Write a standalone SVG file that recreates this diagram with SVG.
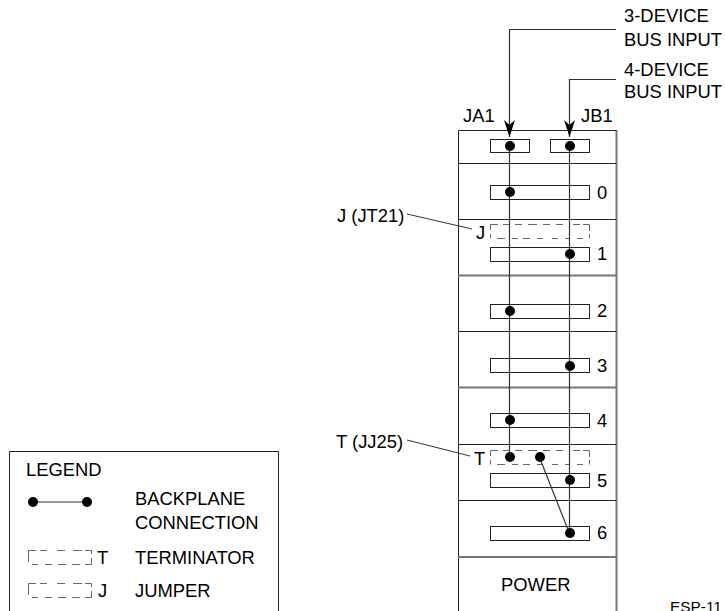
<svg xmlns="http://www.w3.org/2000/svg" width="725" height="611" viewBox="0 0 725 611">
<style>
text{font-family:"Liberation Sans",Arial,sans-serif;font-size:18.4px;fill:#000}
.b{fill:none;stroke:#222;stroke-width:1}
.g{fill:none;stroke:#777;stroke-width:2}
.w{fill:none;stroke:#333;stroke-width:1.2}
.d{fill:none;stroke:#666;stroke-width:1}
.l{fill:none;stroke:#333;stroke-width:1}
.s{fill:none;stroke:#222;stroke-width:1}
</style>
<defs>
<marker id="a" markerUnits="userSpaceOnUse" markerWidth="18" markerHeight="12" refX="17" refY="6" orient="auto" viewBox="0 0 18 12"><path d="M0 0.500L5 6L0 11.500L17 6Z" fill="#000"/></marker>
<path id="dm" d="M490.500 230V224.500H498M503 224.500H510M515 224.500H522M528 224.500H537M543 224.500H550M556 224.500H563M573 224.500H580M583 224.500H589.500V231M490.500 238.500V234M497 238.500H505M512 238.500H518M523 238.500H530M537 238.500H543M552 238.500H558M565 238.500H570M577 238.500H583M589.500 238.500V234"/>
<path id="dl" d="M28.500 562V550.500H36M40 550.500H47M57 550.500H65M73 550.500H82M85 550.500H91.500V554M32 564.500H38M45 564.500H52M58 564.500H66M72 564.500H80M85 564.500H91.500V558"/>
</defs>
<g id="rack">
<path class="g" d="M616.500 130V611"/>
<path class="b" d="M458.500 611V130.500H616.500"/>
<path class="b" d="M458.500 163.500H616.500M458.500 219.500H616.500M458.500 331.500H616.500M458.500 444.500H616.500M458.500 500.500H616.500"/>
<path class="g" d="M458 275.500H616M458 387.500H616M458 557H616"/>
<text x="463" y="122">JA1</text><text x="581" y="122">JB1</text>
<text x="501" y="591">POWER</text>
</g>
<g id="slot-top"><rect class="s" x="490.500" y="139.500" width="39" height="13"/><rect class="s" x="550.500" y="139.500" width="39" height="13"/></g>
<g id="slot-0"><rect class="s" x="490.500" y="185.500" width="99" height="14"/><text x="597" y="199">0</text></g>
<g id="jumper-jt21"><use href="#dm" class="d"/><text x="476" y="239">J</text></g>
<g id="slot-1"><rect class="s" x="490.500" y="247.500" width="99" height="14"/><text x="597" y="260">1</text></g>
<g id="slot-2"><rect class="s" x="490.500" y="304.500" width="99" height="14"/><text x="597" y="317">2</text></g>
<g id="slot-3"><rect class="s" x="490.500" y="358.500" width="99" height="14"/><text x="597" y="372">3</text></g>
<g id="slot-4"><rect class="s" x="490.500" y="413.500" width="99" height="14"/><text x="597" y="427">4</text></g>
<g id="terminator-jj25"><use href="#dm" class="d" transform="translate(0 226)"/><text x="474" y="465">T</text></g>
<g id="slot-5"><rect class="s" x="490.500" y="473.500" width="99" height="14"/><text x="597" y="487">5</text></g>
<g id="slot-6"><rect class="s" x="490.500" y="526.500" width="99" height="14"/><text x="597" y="539">6</text></g>
<g id="labels">
<text x="624" y="22">3-DEVICE</text><text x="624" y="46">BUS INPUT</text>
<text x="624" y="76">4-DEVICE</text><text x="624" y="98">BUS INPUT</text>
<text x="337" y="222">J (JT21)</text><text x="336" y="448">T (JJ25)</text>
<text x="670" y="612" style="font-size:15.400px">ESP-11</text>
</g>
<g id="connectors">
<path class="w" d="M616 29.500H509.500V137" marker-end="url(#a)"/>
<path class="w" d="M616 79.500H569.500V137" marker-end="url(#a)"/>
<path class="w" d="M509.500 146V457.500M569.500 146V533.500M539.500 457.500L569.500 533.500"/>
<path class="l" d="M407 214L472 229M407 440L470 456"/>
<g><circle cx="510" cy="146" r="5"/><circle cx="570" cy="146" r="5"/><circle cx="510" cy="192" r="5"/><circle cx="570" cy="254" r="5"/><circle cx="510" cy="311" r="5"/><circle cx="570" cy="366" r="5"/><circle cx="510" cy="420" r="5"/><circle cx="510" cy="457" r="5"/><circle cx="540" cy="457" r="5"/><circle cx="570" cy="480" r="5"/><circle cx="570" cy="533" r="5"/></g>
</g>
<g id="legend">
<path class="b" d="M9.500 611V451.500H278.500V611"/>
<text x="26" y="476">LEGEND</text>
<path class="w" d="M33 502H87"/><circle cx="33" cy="502" r="5"/><circle cx="87" cy="502" r="5"/>
<text x="135" y="505">BACKPLANE</text><text x="135" y="529">CONNECTION</text>
<use href="#dl" class="d"/><text x="97" y="564">T</text>
<use href="#dl" class="d" transform="translate(0 33)"/><text x="98" y="597">J</text>
<text x="135" y="564">TERMINATOR</text><text x="135" y="597">JUMPER</text>
</g>
</svg>
